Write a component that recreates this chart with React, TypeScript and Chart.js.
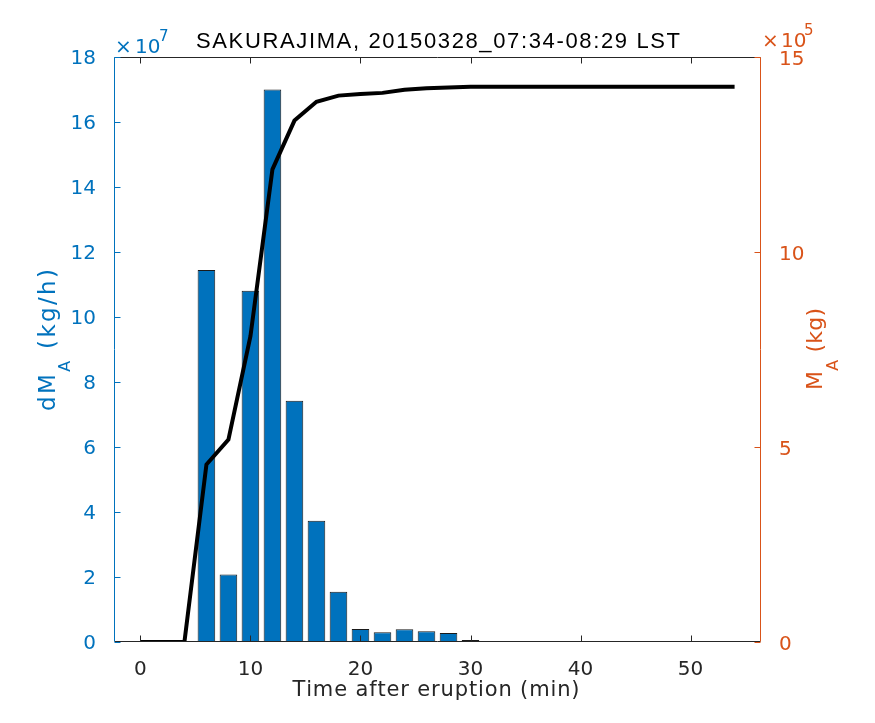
import React, { useEffect, useRef } from "react";
import { Chart, registerables } from "chart.js";

Chart.register(...registerables);

const BLUE = "#0072BD";
const ORANGE = "#D95319";
const AXIS = "#262626";
const FONT = '"DejaVu Sans"';

// ash discharge rate dM_A (kg/h), one bar every 2 min
const barMinutes = [0, 2, 4, 6, 8, 10, 12, 14, 16, 18, 20, 22, 24, 26, 28, 30];
const dischargeRate = [
  0, 0, 0, 11.45e7, 2.08e7, 10.81e7, 17.0e7, 7.42e7, 3.73e7, 1.55e7, 0.4e7, 0.3e7, 0.39e7, 0.33e7,
  0.28e7, 0.06e7,
];

// cumulative ash mass M_A (kg)
const lineMinutes = [
  0, 2, 4, 6, 8, 10, 12, 14, 16, 18, 20, 22, 24, 26, 28, 30, 32, 34, 36, 38, 40, 42, 44, 46, 48, 50,
  52, 54,
];
const cumulativeMass = [
  0, 0, 0, 4.55e5, 5.19e5, 7.84e5, 12.12e5, 13.37e5, 13.85e5, 14.01e5, 14.05e5, 14.08e5, 14.16e5,
  14.2e5, 14.22e5, 14.24e5, 14.24e5, 14.24e5, 14.24e5, 14.24e5, 14.24e5, 14.24e5, 14.24e5, 14.24e5,
  14.24e5, 14.24e5, 14.24e5, 14.24e5,
];

const xTicks = [0, 10, 20, 30, 40, 50];
const leftTicks = [0, 2e7, 4e7, 6e7, 8e7, 10e7, 12e7, 14e7, 16e7, 18e7];
const rightTicks = [0, 5e5, 10e5, 15e5];

const TITLE = "SAKURAJIMA, 20150328_07:34-08:29 LST";
const X_LABEL = "Time after eruption (min)";

type Run = { text: string; size: number; dy?: number };

// draws text whose letters are spread to fill a given width (MATLAB's font runs wide)
function spacedText(
  ctx: CanvasRenderingContext2D,
  runs: Run[],
  family: string,
  color: string,
  cx: number,
  baseline: number,
  width: number,
  angle = 0
) {
  ctx.save();
  ctx.translate(cx, baseline);
  ctx.rotate(angle);
  ctx.fillStyle = color;
  ctx.textAlign = "left";
  ctx.textBaseline = "alphabetic";
  const chars = runs.flatMap((r) => [...r.text].map((ch) => ({ ch, size: r.size, dy: r.dy ?? 0 })));
  const widths = chars.map((c) => {
    ctx.font = `${c.size}px ${family}`;
    return ctx.measureText(c.ch).width;
  });
  const natural = widths.reduce((s, w) => s + w, 0);
  const gap = chars.length > 1 ? (width - natural) / (chars.length - 1) : 0;
  let x = -width / 2;
  chars.forEach((c, i) => {
    ctx.font = `${c.size}px ${family}`;
    ctx.fillText(c.ch, x, c.dy);
    x += widths[i] + gap;
  });
  ctx.restore();
}

function seg(ctx: CanvasRenderingContext2D, x1: number, y1: number, x2: number, y2: number, color: string) {
  ctx.strokeStyle = color;
  ctx.beginPath();
  ctx.moveTo(x1, y1);
  ctx.lineTo(x2, y2);
  ctx.stroke();
}

const decorations = {
  id: "decorations",
  afterDraw(chart: Chart) {
    const { ctx, chartArea: a, scales } = chart;
    const L = Math.round(a.left) + 0.5;
    const R = Math.round(a.right) - 0.5;
    const T = Math.round(a.top) + 0.5;
    const B = Math.round(a.bottom) - 0.5;
    const tick = 6;
    ctx.save();
    ctx.lineWidth = 1;

    // box
    seg(ctx, L, T, R, T, AXIS);
    seg(ctx, L, B, R, B, AXIS);
    seg(ctx, L, T, L, B, BLUE);
    seg(ctx, R, T, R, B, ORANGE);

    // inward ticks
    scales.x.ticks.forEach((t) => {
      const px = Math.round(scales.x.getPixelForValue(t.value)) + 0.5;
      seg(ctx, px, B, px, B - tick, AXIS);
      seg(ctx, px, T, px, T + tick, AXIS);
    });
    scales.y.ticks.forEach((t) => {
      const py = Math.round(scales.y.getPixelForValue(t.value)) + 0.5;
      seg(ctx, L, py, L + tick, py, BLUE);
    });
    scales.y2.ticks.forEach((t) => {
      const py = Math.round(scales.y2.getPixelForValue(t.value)) + 0.5;
      seg(ctx, R, py, R - tick, py, ORANGE);
    });

    // exponent labels
    ctx.textAlign = "left";
    ctx.textBaseline = "alphabetic";
    ctx.fillStyle = BLUE;
    ctx.font = `20px ${FONT}`;
    ctx.fillText("\u00d7", 115, 53);
    ctx.fillText("10", 135, 53);
    ctx.font = `15px ${FONT}`;
    ctx.fillText("7", 159, 41);
    ctx.fillStyle = ORANGE;
    ctx.font = `20px ${FONT}`;
    ctx.fillText("\u00d7", 762, 47);
    ctx.fillText("10", 781, 47);
    ctx.font = `15px ${FONT}`;
    ctx.fillText("5", 804, 35);

    // title and axis titles
    spacedText(ctx, [{ text: TITLE, size: 22 }], '"Liberation Sans"', "#000000", 438, 48, 484);
    spacedText(ctx, [{ text: X_LABEL, size: 21 }], FONT, AXIS, 436, 696, 287);
    spacedText(
      ctx,
      [
        { text: "dM", size: 23 },
        { text: "A", size: 16, dy: 15 },
        { text: " (kg/h)", size: 23 },
      ],
      FONT,
      BLUE,
      55,
      340,
      142,
      -Math.PI / 2
    );
    spacedText(
      ctx,
      [
        { text: "M", size: 22 },
        { text: "A", size: 16, dy: 16 },
        { text: " (kg)", size: 22 },
      ],
      FONT,
      ORANGE,
      822,
      349,
      82,
      -Math.PI / 2
    );
    ctx.restore();
  },
};

const App: React.FC = () => {
  const canvasRef = useRef<HTMLCanvasElement | null>(null);

  useEffect(() => {
    if (!canvasRef.current) return;
    const tickFont = { family: FONT, size: 20 };

    const chart = new Chart(canvasRef.current, {
      type: "bar",
      data: {
        datasets: [
          {
            type: "line",
            label: "M_A",
            data: lineMinutes.map((m, i) => ({ x: m, y: cumulativeMass[i] })),
            yAxisID: "y2",
            borderColor: "#000000",
            borderWidth: 4,
            pointRadius: 0,
            tension: 0,
            order: 0,
          },
          {
            type: "bar",
            label: "dM_A",
            data: barMinutes.map((m, i) => ({ x: m, y: dischargeRate[i] })),
            yAxisID: "y",
            backgroundColor: BLUE,
            borderColor: "#1a1a1a",
            borderWidth: 1,
            borderSkipped: false,
            barPercentage: 0.8,
            categoryPercentage: 1,
            order: 1,
          },
        ],
      },
      options: {
        responsive: false,
        animation: false,
        layout: { padding: { top: 57, left: 0, right: 0, bottom: 0 } },
        plugins: {
          legend: { display: false },
          tooltip: { enabled: false },
          title: { display: false },
        },
        scales: {
          x: {
            type: "linear",
            min: -2.4,
            max: 56.4,
            offset: false,
            grid: { display: false },
            border: { display: false },
            afterBuildTicks: (s: any) => {
              s.ticks = xTicks.map((v) => ({ value: v }));
            },
            ticks: { color: AXIS, font: tickFont, padding: 8, maxRotation: 0, autoSkip: false },
            afterFit: (s: any) => {
              s.height = 81;
            },
          },
          y: {
            position: "left",
            min: 0,
            max: 18e7,
            grid: { display: false },
            border: { display: false },
            afterBuildTicks: (s: any) => {
              s.ticks = leftTicks.map((v) => ({ value: v }));
            },
            ticks: {
              color: BLUE,
              font: tickFont,
              padding: 10,
              labelOffset: 2,
              callback: (v: any) => `${Number(v) / 1e7}`,
            },
            afterFit: (s: any) => {
              s.width = 114;
            },
          },
          y2: {
            position: "right",
            min: 0,
            max: 15e5,
            grid: { display: false },
            border: { display: false },
            afterBuildTicks: (s: any) => {
              s.ticks = rightTicks.map((v) => ({ value: v }));
            },
            ticks: {
              color: ORANGE,
              font: tickFont,
              padding: 10,
              labelOffset: 3,
              callback: (v: any) => `${Number(v) / 1e5}`,
            },
            afterFit: (s: any) => {
              s.width = 114;
            },
          },
        },
      },
      plugins: [decorations],
    });

    return () => {
      chart.destroy();
    };
  }, []);

  return (
    <div style={{ position: "absolute", left: 0, top: 0, width: 875, height: 723, background: "#ffffff" }}>
      <canvas ref={canvasRef} width={875} height={723} />
    </div>
  );
};

export default App;
